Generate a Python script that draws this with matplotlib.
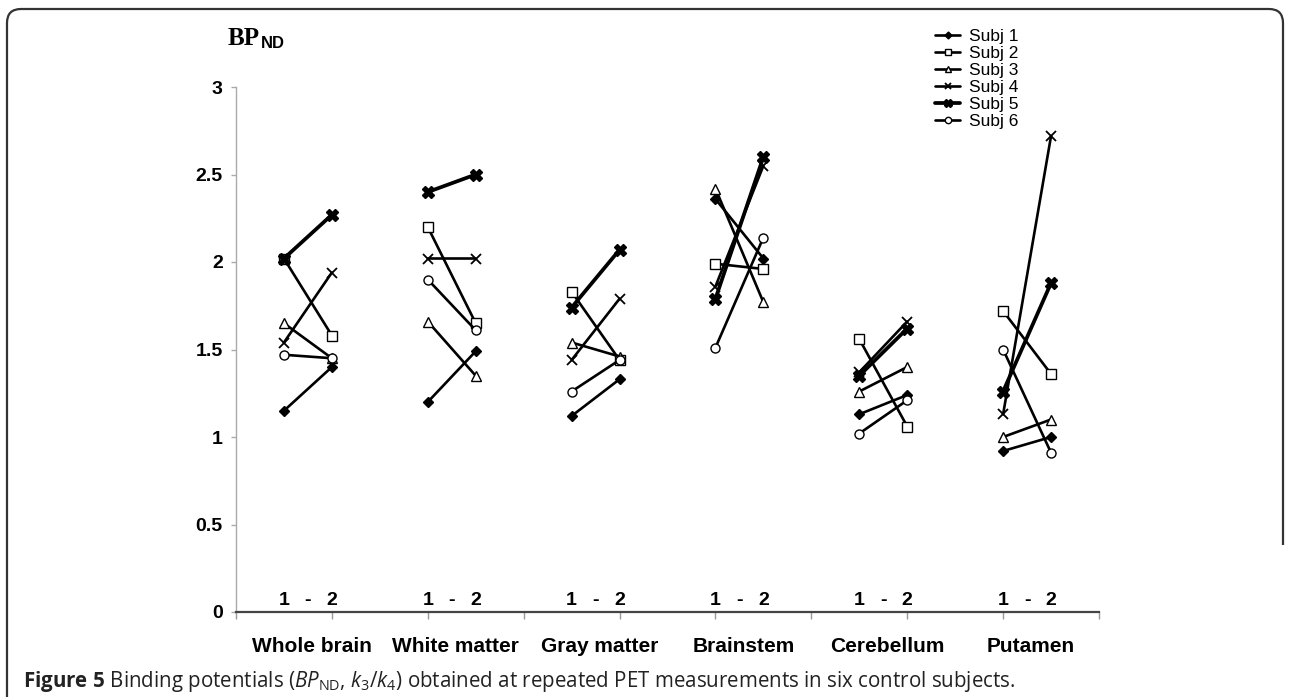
import numpy as np
import matplotlib
matplotlib.use("Agg")
import matplotlib.pyplot as plt
from matplotlib.path import Path
from matplotlib.patches import PathPatch

plt.rcParams['font.family'] = 'Liberation Sans'
plt.rcParams['mathtext.fontset'] = 'custom'
plt.rcParams['mathtext.rm'] = 'Open Sans'
plt.rcParams['mathtext.it'] = 'Open Sans:italic'
plt.rcParams['mathtext.bf'] = 'Open Sans:bold'

# regions, each measured twice (test 1, test 2)
regions = ['Whole brain', 'White matter', 'Gray matter', 'Brainstem', 'Cerebellum', 'Putamen']
subjects = ['Subj 1', 'Subj 2', 'Subj 3', 'Subj 4', 'Subj 5', 'Subj 6']

# values per subject: [region1 t1, region1 t2, region2 t1, ...]
subj1 = [1.15, 1.40, 1.20, 1.49, 1.12, 1.33, 2.36, 2.02, 1.13, 1.24, 0.92, 1.00]
subj2 = [2.02, 1.58, 2.20, 1.65, 1.83, 1.44, 1.99, 1.96, 1.56, 1.06, 1.72, 1.36]
subj3 = [1.65, 1.45, 1.66, 1.35, 1.54, 1.46, 2.42, 1.77, 1.26, 1.40, 1.00, 1.10]
subj4 = [1.54, 1.94, 2.02, 2.02, 1.44, 1.79, 1.86, 2.55, 1.37, 1.66, 1.13, 2.72]
subj5 = [2.02, 2.27, 2.40, 2.50, 1.74, 2.07, 1.79, 2.60, 1.35, 1.62, 1.26, 1.88]
subj6 = [1.47, 1.45, 1.90, 1.61, 1.26, 1.44, 1.51, 2.14, 1.02, 1.21, 1.50, 0.91]
all_subj = [subj1, subj2, subj3, subj4, subj5, subj6]

yticks = [0, 0.5, 1, 1.5, 2, 2.5, 3]
ytick_labels = ['0', '0.5', '1', '1.5', '2', '2.5', '3']

# marker styles
styles = [
    dict(marker='D', ms=5, mfc='black', lw=1.9),
    dict(marker='s', ms=6.5, mfc='white', lw=1.9),
    dict(marker='^', ms=7, mfc='white', lw=1.9),
    dict(marker='x', ms=7, mew=1.3, lw=1.9),
    dict(marker='X', ms=8, mfc='black', lw=2.7),
    dict(marker='o', ms=6.5, mfc='white', lw=1.9),
]

W, H = 1290, 697
fig = plt.figure(figsize=(W / 100, H / 100), dpi=100)
ax = fig.add_axes([236 / W, 1 - 612 / H, (1099 - 236) / W, (612 - 87) / H])

# x positions: two points per region, a gap between regions
x_pts = []
for g in range(len(regions)):
    x_pts += [3 * g + 1, 3 * g + 2]
x_pts = np.array(x_pts, dtype=float)

def with_gaps(vals):
    out = []
    for i in range(0, len(vals), 2):
        out += [vals[i], vals[i + 1], np.nan]
    return np.array(out, dtype=float)

xg = with_gaps(x_pts)
for name, vals, st in zip(subjects, all_subj, styles):
    ax.plot(xg, with_gaps(vals), color='black', mec='black', label=name,
            solid_capstyle='round', **st)

ax.set_xlim(0, 18)
ax.set_ylim(0, 3)
ax.set_xticks(np.arange(0, 19, 2))
ax.set_xticklabels([''] * 10)
centers = x_pts[::2] + 0.58
ax.set_xticks(centers, minor=True)
ax.set_xticklabels(regions, minor=True, fontsize=15, fontweight='bold')
ax.tick_params(axis='x', which='minor', length=0, pad=18)
ax.tick_params(axis='x', which='major', length=5, color='#999999', width=1)
ax.set_yticks(yticks)
ax.set_yticklabels(ytick_labels, fontsize=14, fontweight='bold')
ax.tick_params(axis='y', length=3.6, color='#aaaaaa', width=1, pad=6)

for s in ['top', 'right']:
    ax.spines[s].set_visible(False)
ax.spines['left'].set_color('#aaaaaa')
ax.spines['left'].set_linewidth(1)
ax.spines['bottom'].set_color('#444444')
ax.spines['bottom'].set_linewidth(1.6)

# test labels under each pair
for g in range(len(regions)):
    x1, x2 = x_pts[2 * g], x_pts[2 * g + 1]
    ax.text(x1, 0.04, '1', ha='center', va='baseline', fontsize=14, fontweight='bold')
    ax.text((x1 + x2) / 2, 0.04, '-', ha='center', va='baseline', fontsize=14, fontweight='bold')
    ax.text(x2, 0.04, '2', ha='center', va='baseline', fontsize=14, fontweight='bold')

ax.legend(loc='upper left', bbox_to_anchor=(935 / W, 1 - 29 / H), bbox_transform=fig.transFigure,
          frameon=False, borderpad=0, borderaxespad=0, handlelength=1.45, handletextpad=0.5,
          labelspacing=0.1, fontsize=12.5, markerscale=0.7)

# y label BP_ND
fig.text(228 / W, 1 - 45 / H, 'BP', family='Liberation Serif', fontweight='bold', fontsize=18,
         ha='left', va='baseline')
fig.text(261 / W, 1 - 48 / H, 'ND', fontweight='bold', fontsize=12, ha='left', va='baseline')

# caption
fig.text(23 / W, 1 - 682 / H,
         r'$\mathbf{Figure\ 5}$ Binding potentials ($BP_{\mathrm{ND}}$, $k_{3}$/$k_{4}$) obtained at '
         r'repeated PET measurements in six control subjects.',
         family='Open Sans', fontsize=14.8, ha='left', va='center', color='#222222')

# frame
def fx(px):
    return px / W

def fy(py):
    return 1 - py / H

r = 14
verts = [(7, 697), (7, 9 + r), (7, 9), (7 + r, 9), (1283 - r, 9), (1283, 9), (1283, 9 + r), (1283, 545)]
codes = [Path.MOVETO, Path.LINETO, Path.CURVE3, Path.CURVE3, Path.LINETO, Path.CURVE3, Path.CURVE3, Path.LINETO]
path = Path([(fx(a), fy(b)) for a, b in verts], codes)
fig.patches.append(PathPatch(path, transform=fig.transFigure, fill=False, ec='#333333', lw=1.6))

fig.savefig('out.png', dpi=100)
